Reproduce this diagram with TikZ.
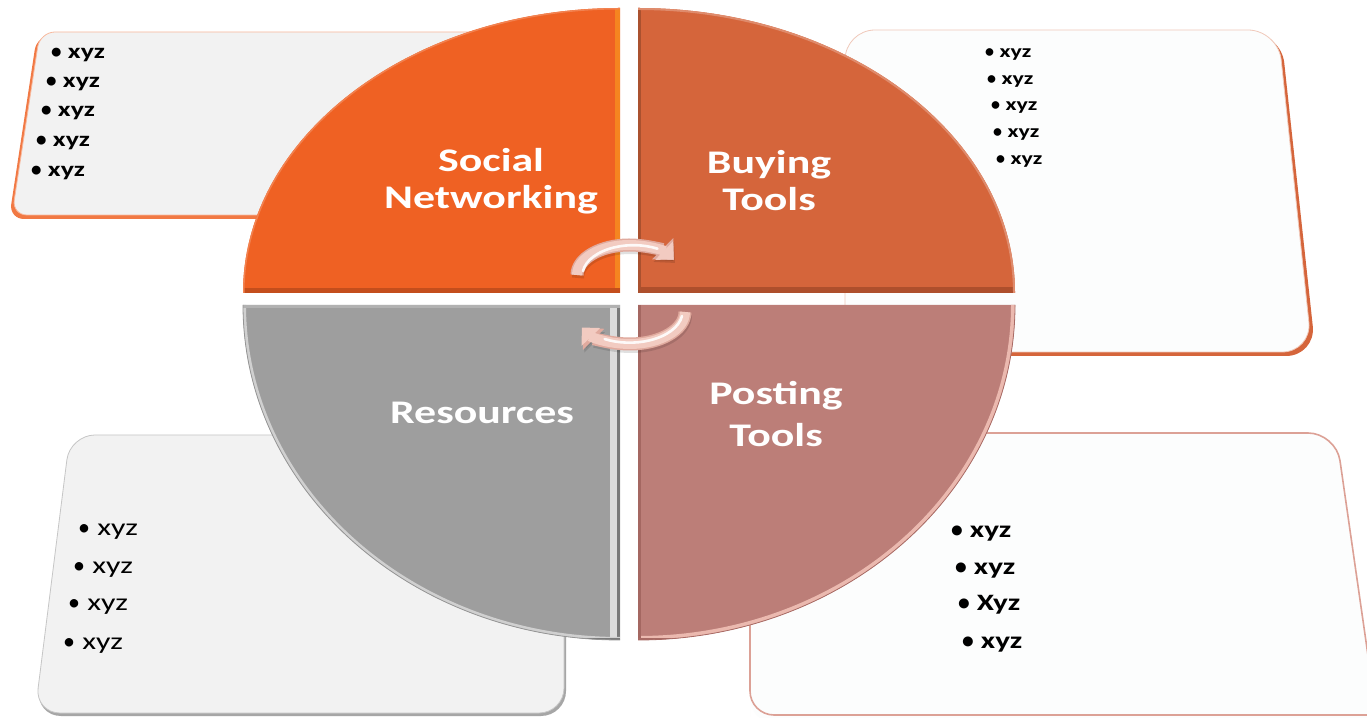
\documentclass[tikz,border=0pt]{standalone}
\usepackage{fontspec}
\setmainfont{Carlito}
\newfontfamily\widefont[FakeStretch=1.33]{Carlito}
\newfontfamily\dotfont{Carlito}
\usetikzlibrary{arrows.meta}

\definecolor{snOrange}{HTML}{EF6123}
\definecolor{snLight}{HTML}{F8951F}
\definecolor{snDark}{HTML}{C44E1C}
\definecolor{btOrange}{HTML}{D5653B}
\definecolor{btDark}{HTML}{AE4F2C}
\definecolor{resGray}{HTML}{9E9E9E}
\definecolor{resLight}{HTML}{DCDCDC}
\definecolor{resDark}{HTML}{7A7A7A}
\definecolor{ptRose}{HTML}{BC7E78}
\definecolor{ptLight}{HTML}{EBB9AF}
\definecolor{ptDark}{HTML}{9A5D57}
\definecolor{cardGray}{HTML}{F2F2F2}
\definecolor{cardWhite}{HTML}{FCFDFD}
\definecolor{cardPink}{HTML}{DCA196}
\definecolor{arrowPink}{HTML}{F2CBC1}
\definecolor{arrowEdge}{HTML}{E0AA9E}

% round bullet, not stretched like the item text
\newcommand{\itemdot}{{\dotfont •}\hspace{0.3em}}

\tikzset{
  wlabel/.style={text=white, align=center, inner sep=0pt,
    font=\widefont\bfseries\fontsize{33}{37}\selectfont},
  itemTL/.style={anchor=base west, inner sep=0pt, text=black,
    font=\widefont\bfseries\fontsize{21}{25}\selectfont},
  itemTR/.style={anchor=base west, inner sep=0pt, text=black,
    font=\widefont\bfseries\fontsize{18}{22}\selectfont},
  itemBL/.style={anchor=base west, inner sep=0pt, text=black,
    font=\widefont\fontsize{24}{28}\selectfont},
  itemBR/.style={anchor=base west, inner sep=0pt, text=black,
    font=\widefont\bfseries\fontsize{23.5}{28}\selectfont},
  flowedge/.style={line width=13pt, arrowEdge,
    -{Triangle[length=16pt,width=29pt]}},
  flowarrow/.style={line width=10pt, arrowPink,
    -{Triangle[length=13pt,width=25pt]}},
  flowshadow/.style={line width=12pt, black, opacity=0.12,
    -{Triangle[length=16pt,width=28pt]}},
  flowshine/.style={line width=2.6pt, white, opacity=0.9, line cap=round},
}

\begin{document}
\begin{tikzpicture}[x=1pt,y=1pt]
\useasboundingbox (0,0) rectangle (1367,717);
\clip (0,0) rectangle (1367,717);
\fill[white] (0,0) rectangle (1367,717);

% ---------- item cards (behind the disc) ----------
% top-left card
\fill[snOrange!85, rounded corners=15] (37,682) -- (560,682) -- (560,498) -- (9,498) -- cycle;
\fill[cardGray, rounded corners=15] (40,685) -- (560,685) -- (560,502) -- (12,502) -- cycle;
\draw[snOrange!45, line width=0.8pt, rounded corners=15] (40,685) -- (560,685) -- (560,502) -- (12,502) -- cycle;

% top-right card
\fill[btOrange, rounded corners=30] (848,684) -- (1281,684) -- (1316,361) -- (848,361) -- cycle;
\fill[cardWhite, rounded corners=30] (845,687) -- (1278,687) -- (1312,365) -- (845,365) -- cycle;
\draw[btOrange!35, line width=0.8pt, rounded corners=30] (845,687) -- (1278,687) -- (1312,365) -- (845,365) -- cycle;

% bottom-left card
\fill[gray!70, rounded corners=25] (71,279) -- (566,279) -- (566,1) -- (36,1) -- cycle;
\fill[cardGray, rounded corners=25] (70,282) -- (564,282) -- (564,4) -- (35,4) -- cycle;
\draw[gray!45, line width=0.8pt, rounded corners=25] (70,282) -- (564,282) -- (564,4) -- (35,4) -- cycle;

% bottom-right card
\fill[cardWhite, rounded corners=28] (750,284) -- (1336,284) -- (1378,-8) -- (750,-8) -- (750,2) -- cycle;
\draw[cardPink, line width=1.6pt, rounded corners=28] (750,284) -- (1336,284) -- (1378,-8);
\draw[cardPink, line width=1.6pt, rounded corners=24] (750,300) -- (750,2) -- (900,2) -- (1370,2);

% ---------- disc quadrants ----------
% Social Networking
\begin{scope}
  \path[clip] (620,424) -- (243,424) arc[start angle=180,end angle=90,x radius=377,y radius=285] -- cycle;
  \fill[snOrange] (200,400) rectangle (700,717);
  \fill[snLight!70!snOrange] (615,424) rectangle (620,717);
  \fill[snDark] (243,424) rectangle (620,429);
  \draw[snOrange!80!white, line width=3pt] (243,424) arc[start angle=180,end angle=90,x radius=377,y radius=285];
\end{scope}

% Buying Tools
\begin{scope}
  \path[clip] (638,424) -- (1015,424) arc[start angle=0,end angle=90,x radius=377,y radius=285] -- cycle;
  \fill[btOrange] (600,400) rectangle (1100,717);
  \fill[btDark] (638,424) rectangle (1015,430);
  \fill[btOrange!80!black] (638,424) rectangle (641,717);
  \draw[btOrange!75!white, line width=4pt] (1015,424) arc[start angle=0,end angle=90,x radius=377,y radius=285];
\end{scope}

% Resources
\begin{scope}
  \path[clip] (620,412) -- (243,412) arc[start angle=180,end angle=270,x radius=377,y radius=335] -- cycle;
  \fill[resGray] (200,0) rectangle (700,420);
  \fill[resLight] (610,0) rectangle (617,412);
  \fill[resDark] (617,0) rectangle (620,412);
  \draw[resLight!80!resGray, line width=6pt] (243,412) arc[start angle=180,end angle=270,x radius=377,y radius=335];
  \fill[resDark] (243,77) rectangle (620,79);
  \fill[resGray!80!white] (243,409) rectangle (620,412);
\end{scope}
\draw[resDark!80, line width=0.8pt] (243,412) arc[start angle=180,end angle=270,x radius=377,y radius=335];

% Posting Tools
\begin{scope}
  \path[clip] (638,412) -- (1015,412) arc[start angle=0,end angle=-90,x radius=377,y radius=335] -- cycle;
  \fill[ptRose] (600,0) rectangle (1100,420);
  \draw[ptLight, line width=8pt] (1015,412) arc[start angle=0,end angle=-90,x radius=377,y radius=335];
  \fill[ptDark!70!ptRose] (638,0) rectangle (641,412);
  \fill[ptDark!60!ptRose] (638,77) rectangle (1015,79);
\end{scope}
\draw[ptDark!60!ptRose, line width=0.8pt] (1015,412) arc[start angle=0,end angle=-90,x radius=377,y radius=335];

% ---------- quadrant labels ----------
\node[wlabel] (social) at (491,536) {Social\\Networking};
\node[wlabel] (buying) at (769,536) {Buying\\Tools};
\node[wlabel] (resources) at (482,304) {Resources};
\node[wlabel] (posting) at (776,303) {Posting\\[5pt]Tools};

% ---------- cycle arrows ----------
\draw[flowshadow] (578,439) arc[start angle=180,end angle=30,x radius=52,y radius=30];
\draw[flowedge] (577,442) arc[start angle=180,end angle=30,x radius=52,y radius=30];
\draw[flowarrow] (577,442) arc[start angle=180,end angle=31,x radius=52,y radius=30];
\draw[flowshine] (583,446) arc[start angle=172,end angle=62,x radius=51,y radius=30];

\draw[flowshadow] (686,402) arc[start angle=0,end angle=-150,x radius=55,y radius=32];
\draw[flowedge] (685,405) arc[start angle=0,end angle=-150,x radius=55,y radius=32];
\draw[flowarrow] (685,405) arc[start angle=0,end angle=-151,x radius=55,y radius=32];
\draw[flowshine] (682,401) arc[start angle=-8,end angle=-118,x radius=53,y radius=31];

% ---------- card items ----------
\node[itemTL] (tl1) at (51,658) {\itemdot xyz};
\node[itemTL] (tl2) at (46,629) {\itemdot xyz};
\node[itemTL] (tl3) at (41,600) {\itemdot xyz};
\node[itemTL] (tl4) at (36,570) {\itemdot xyz};
\node[itemTL] (tl5) at (31,540) {\itemdot xyz};

\node[itemTR] (tr1) at (985,659) {\itemdot xyz};
\node[itemTR] (tr2) at (987,632) {\itemdot xyz};
\node[itemTR] (tr3) at (991,606) {\itemdot xyz};
\node[itemTR] (tr4) at (993,579) {\itemdot xyz};
\node[itemTR] (tr5) at (996,552) {\itemdot xyz};

\node[itemBL] (bl1) at (78,181) {\itemdot xyz};
\node[itemBL] (bl2) at (73,143) {\itemdot xyz};
\node[itemBL] (bl3) at (68,106) {\itemdot xyz};
\node[itemBL] (bl4) at (63,67) {\itemdot xyz};

\node[itemBR] (br1) at (951,179) {\itemdot xyz};
\node[itemBR] (br2) at (955,142) {\itemdot xyz};
\node[itemBR] (br3) at (958,106) {\itemdot Xyz};
\node[itemBR] (br4) at (962,68) {\itemdot xyz};
\end{tikzpicture}
\end{document}
